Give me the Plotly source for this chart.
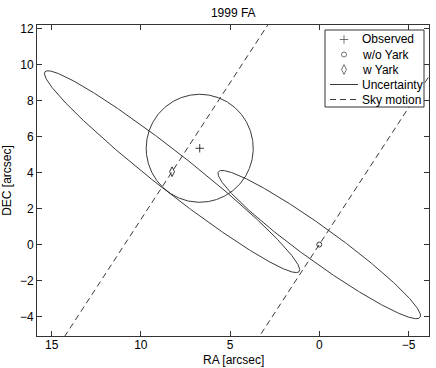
import numpy as np
import plotly.graph_objects as go

# ---- data (arcsec) ----
observed_ra = [6.7]
observed_dec = [5.35]
observed_radius = 3.0          # observation uncertainty circle

woyark_ra = [0.0]
woyark_dec = [0.0]
woyark_ellipse = dict(a=6.95, b=0.95, angle_deg=35.6)

wyark_ra = [8.25]
wyark_dec = [4.05]
wyark_ellipse = dict(a=9.03, b=1.04, angle_deg=37.9)

sky_motion_slope = -1.52       # dDEC / dRA

x_ticks = [15, 10, 5, 0, -5]
y_ticks = [-4, -2, 0, 2, 4, 6, 8, 10, 12]

legend_names = ["Observed", "w/o Yark", "w Yark", "Uncertainty", "Sky motion"]

# ---- layout geometry (pixels) ----
W, H = 436, 368
L, R, T, B = 37, 7, 25, 32
PW, PH = W - L - R, H - T - B


def px(x):  # pixel x -> paper
    return (x - L) / PW


def py(y):  # pixel y -> paper
    return (H - B - y) / PH


# ---- helpers ----
t = np.linspace(0, 2 * np.pi, 721)


def ellipse(cx, cy, a, b, angle_deg):
    th = np.deg2rad(angle_deg)
    x = a * np.cos(t)
    y = b * np.sin(t)
    return (cx + x * np.cos(th) - y * np.sin(th),
            cy + x * np.sin(th) + y * np.cos(th))


def sky_line(x0, y0):
    xs = np.array([25.0, -15.0])
    return xs, y0 + sky_motion_slope * (xs - x0)


LC = "#222"
LW = 0.9
DASH = "6px,4px"
fig = go.Figure()

# uncertainty curves
cx, cy = ellipse(observed_ra[0], observed_dec[0], observed_radius, observed_radius, 0)
fig.add_trace(go.Scatter(x=cx, y=cy, mode="lines", line=dict(color=LC, width=LW),
                         name="Uncertainty", hoverinfo="skip"))
ex, ey = ellipse(wyark_ra[0], wyark_dec[0], **wyark_ellipse)
fig.add_trace(go.Scatter(x=ex, y=ey, mode="lines", line=dict(color=LC, width=LW),
                         name="Uncertainty", hoverinfo="skip"))
ex, ey = ellipse(woyark_ra[0], woyark_dec[0], **woyark_ellipse)
fig.add_trace(go.Scatter(x=ex, y=ey, mode="lines", line=dict(color=LC, width=LW),
                         name="Uncertainty", hoverinfo="skip"))

# sky motion lines
for (x0, y0) in [(wyark_ra[0], wyark_dec[0]), (woyark_ra[0], woyark_dec[0])]:
    lx, ly = sky_line(x0, y0)
    fig.add_trace(go.Scatter(x=lx, y=ly, mode="lines",
                             line=dict(color=LC, width=LW, dash=DASH),
                             name="Sky motion"))

# markers
MK = [dict(symbol="cross-thin", size=6), dict(symbol="circle-open", size=5),
      dict(symbol="diamond-tall-open", size=7)]
for (xs, ys, nm, mk) in [(observed_ra, observed_dec, legend_names[0], MK[0]),
                         (woyark_ra, woyark_dec, legend_names[1], MK[1]),
                         (wyark_ra, wyark_dec, legend_names[2], MK[2])]:
    fig.add_trace(go.Scatter(x=xs, y=ys, mode="markers", name=nm,
                             marker=dict(color=LC, line=dict(color=LC, width=LW), **mk)))

# ---- legend key (MATLAB style boxed key), drawn on an auxiliary 0..1 axis ----
box = dict(x0=325, x1=424, y0=30, y1=107)
rows = [39.5, 54.5, 69.5, 84.5, 99.5]
sym_x, line_x0, line_x1, text_x = 344, 330, 358, 360

fig.add_trace(go.Scatter(
    x=[px(box["x0"]), px(box["x1"]), px(box["x1"]), px(box["x0"]), px(box["x0"])],
    y=[py(box["y0"]), py(box["y0"]), py(box["y1"]), py(box["y1"]), py(box["y0"])],
    xaxis="x2", yaxis="y2", mode="lines", fill="toself", fillcolor="white",
    line=dict(color="#333", width=1), hoverinfo="skip", cliponaxis=False))
for i, dash in [(3, "solid"), (4, DASH)]:
    fig.add_trace(go.Scatter(x=[px(line_x0), px(line_x1)], y=[py(rows[i])] * 2,
                             xaxis="x2", yaxis="y2", mode="lines", hoverinfo="skip",
                             line=dict(color=LC, width=LW, dash=dash)))
fig.add_trace(go.Scatter(x=[px(sym_x)] * 3, y=[py(r) for r in rows[:3]],
                         xaxis="x2", yaxis="y2", mode="markers", hoverinfo="skip",
                         marker=dict(color=LC, line=dict(color=LC, width=LW),
                                     symbol=[m["symbol"] for m in MK],
                                     size=[m["size"] for m in MK]),
                         cliponaxis=False))
annotations = [dict(text=nm, xref="paper", yref="paper", x=px(text_x), y=py(r),
                    xanchor="left", yanchor="middle", showarrow=False,
                    font=dict(size=12, color="black"))
               for nm, r in zip(legend_names, rows)]
# x-axis title
annotations.append(dict(text="RA [arcsec]", xref="paper", yref="paper",
                        x=0.5, y=py(360), xanchor="center", yanchor="middle",
                        showarrow=False, borderpad=0, font=dict(size=12, color="black")))

axis_common = dict(showline=True, linecolor="#333", linewidth=1, mirror="ticks",
                   ticks="inside", ticklen=5, tickcolor="#333", showgrid=False,
                   zeroline=False, automargin=False,
                   tickfont=dict(size=12, color="black"))

fig.update_layout(
    width=W, height=H,
    margin=dict(l=L, r=R, t=T, b=B),
    paper_bgcolor="white", plot_bgcolor="white",
    font=dict(family="Liberation Sans, Arial, sans-serif", size=12, color="black"),
    title=dict(text="1999 FA", x=0.535, xanchor="center", y=1 - 13 / H, yanchor="middle",
               font=dict(size=12)),
    xaxis=dict(range=[15.82, -6.15], tickvals=x_ticks, ticklabelstandoff=-2,
               **axis_common),
    yaxis=dict(range=[-5.08, 12.2], tickvals=y_ticks,
               title=dict(text="DEC [arcsec]", font=dict(size=12)),
               **axis_common),
    xaxis2=dict(range=[0, 1], overlaying="x", visible=False, fixedrange=True),
    yaxis2=dict(range=[0, 1], overlaying="y", visible=False, fixedrange=True),
    showlegend=False,
    annotations=annotations,
)

fig.write_html("out.html", config={"displayModeBar": False},
               post_script="document.body.style.margin='0';document.body.style.padding='0';")
